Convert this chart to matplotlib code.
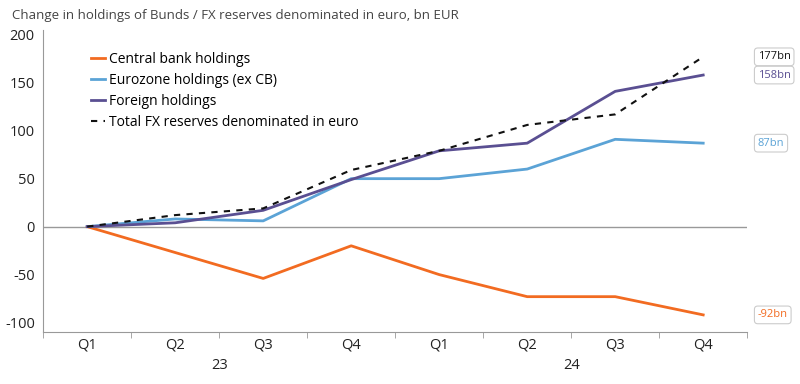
import matplotlib
matplotlib.use('Agg')
import matplotlib.pyplot as plt
import numpy as np

plt.rcParams['font.family'] = ['Open Sans', 'DejaVu Sans']

quarters = ['Q1', 'Q2', 'Q3', 'Q4', 'Q1', 'Q2', 'Q3', 'Q4']
years = ['23', '24']
central_bank = [0, -27, -54, -20, -50, -73, -73, -92]
eurozone = [0, 8, 6, 50, 50, 60, 91, 87]
foreign = [0, 4, 17, 49, 79, 87, 141, 158]
total_fx = [0, 12, 19, 59, 79, 106, 117, 177]
end_labels = ['-92bn', '87bn', '158bn', '177bn']

c_orange = '#f26b21'
c_blue = '#5ba3d6'
c_purple = '#5a4f92'
c_black = '#111111'

fig = plt.figure(figsize=(8, 3.84), dpi=100)
ax = fig.add_axes([0.054, 0.135, 0.88, 0.787])

x = np.arange(len(quarters))
ax.plot(x, central_bank, color=c_orange, lw=2, label='Central bank holdings')
ax.plot(x, eurozone, color=c_blue, lw=2, label='Eurozone holdings (ex CB)')
ax.plot(x, foreign, color=c_purple, lw=2, label='Foreign holdings')
ax.plot(x, total_fx, color=c_black, lw=1.5, ls=(0, (3, 3)), label='Total FX reserves denominated in euro')

ax.axhline(0, color='#999999', lw=1, zorder=0)
ax.set_xlim(-0.5, len(quarters) - 0.5)
ax.set_ylim(-110, 205)
ax.set_yticks([-100, -50, 0, 50, 100, 150, 200])
ax.set_yticklabels(['-100', '-50', '0', '50', '100', '150', '200'])
ax.tick_params(axis='y', length=0, labelsize=10.5, colors='#222222', pad=6)

ax.set_xticks(x)
ax.set_xticklabels(quarters)
ax.set_xticks(np.arange(-0.5, len(quarters)), minor=True)
ax.tick_params(axis='x', which='major', length=0, labelsize=10.5, colors='#222222', pad=4)
ax.tick_params(axis='x', which='minor', length=4, color='#999999')

for i, yr in enumerate(years):
    ax.text(i * 4 + 1.5, -0.085, yr, transform=ax.get_xaxis_transform(),
            ha='center', va='top', fontsize=10.5, color='#222222')

for s in ['top', 'right']:
    ax.spines[s].set_visible(False)
for s in ['left', 'bottom']:
    ax.spines[s].set_color('#999999')

leg = ax.legend(loc='upper left', bbox_to_anchor=(0.05, 0.97), frameon=False,
                fontsize=10, handlelength=1.0, handletextpad=0.3, labelspacing=0.45)

label_vals = [central_bank[-1], eurozone[-1], foreign[-1], total_fx[-1]]
label_cols = [c_orange, c_blue, c_purple, c_black]
for txt, v, c in zip(end_labels, label_vals, label_cols):
    ax.text(1.015, v, txt, transform=ax.get_yaxis_transform(), ha='left', va='center',
            fontsize=8, color=c, clip_on=False,
            bbox=dict(boxstyle='round,pad=0.3', fc='white', ec='#cccccc', lw=0.8))

fig.text(0.015, 0.96, 'Change in holdings of Bunds / FX reserves denominated in euro, bn EUR',
         fontsize=9.5, color='#444444', ha='left', va='center')

fig.savefig('out.png', dpi=100)
